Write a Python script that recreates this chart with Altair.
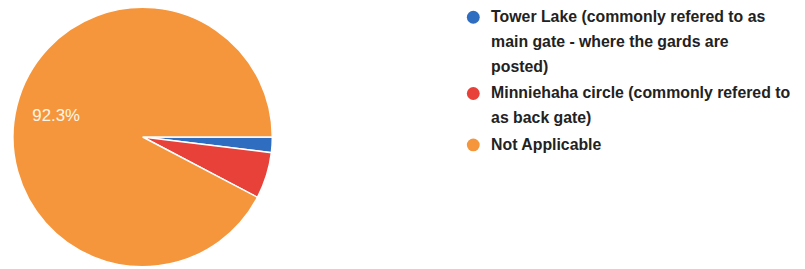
import math
import json
import altair as alt
import pandas as pd

# Data
categories = [
    "Tower Lake (commonly refered to as main gate - where the gards are posted)",
    "Minniehaha circle (commonly refered to as back gate)",
    "Not Applicable",
]
legend_lines = [
    ["Tower Lake (commonly refered to as", "main gate - where the gards are", "posted)"],
    ["Minniehaha circle (commonly refered to", "as back gate)"],
    ["Not Applicable"],
]
counts = [1, 3, 48]
slice_labels = ["", "", "92.3%"]
colors = ["#2F6DC0", "#E8413A", "#F6963C"]

df = pd.DataFrame({
    "category": categories,
    "count": counts,
    "label": slice_labels,
    "idx": list(range(len(categories))),
})

# label expression splitting each legend label into its lines
expr = "''"
for cat, lines in reversed(list(zip(categories, legend_lines))):
    expr = f"datum.label == {json.dumps(cat)} ? {json.dumps(lines)} : ({expr})"

cx, cy = 136, 129

theta = alt.Theta(
    "count:Q",
    stack=True,
    scale=alt.Scale(range=[math.pi / 2, math.pi / 2 + 2 * math.pi]),
)
color = alt.Color(
    "category:N",
    scale=alt.Scale(domain=categories, range=colors),
    legend=alt.Legend(
        title=None,
        orient="none",
        legendX=462,
        legendY=0,
        symbolType="circle",
        symbolSize=169,
        symbolStrokeWidth=0,
        labelExpr=expr,
        labelFont="Liberation Sans",
        labelFontSize=16,
        labelFontWeight="bold",
        labelColor="#222222",
        labelLimit=0,
        labelOffset=10,
        rowPadding=11,
    ),
)

base = alt.Chart(df).encode(
    theta=theta,
    order=alt.Order("idx:Q"),
)

arc = base.mark_arc(stroke="white", strokeWidth=1.5).encode(
    color=color,
    x=alt.value(cx),
    y=alt.value(cy),
    radius=alt.value(131),
)

text = base.mark_text(
    font="Liberation Sans",
    fontSize=17,
    color="#FFF6E6",
    align="center",
    baseline="middle",
).encode(
    text="label:N",
    x=alt.value(cx),
    y=alt.value(cy),
    radius=alt.value(90),
)

chart = alt.layer(arc, text).properties(
    width=797, height=261, autosize="none", padding=0
).configure(style={"guide-label": {"lineHeight": 25}}).configure_view(stroke=None)

chart.save("out.html", embed_options={"renderer": "svg", "actions": False})
